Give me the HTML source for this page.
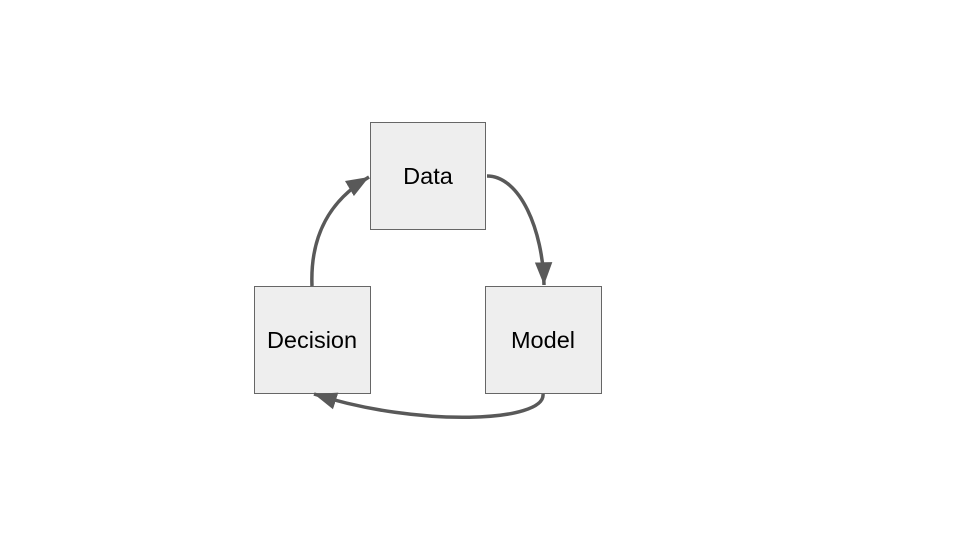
<!DOCTYPE html>
<html><head><style>
html,body{margin:0;padding:0;background:#fff;width:960px;height:540px;overflow:hidden}
svg{display:block}
</style></head><body>
<svg width="960" height="540" xmlns="http://www.w3.org/2000/svg">
<defs>
<marker id="a" markerWidth="7" markerHeight="6" refX="6.5" refY="3" orient="auto" markerUnits="strokeWidth">
<path d="M0,0.5 L6.5,3 L0,5.5 Z" fill="#595959"/>
</marker>
</defs>
<g fill="#eeeeee" stroke="#666" stroke-width="1">
<rect x="370.5" y="122.5" width="115" height="107"/>
<rect x="254.5" y="286.5" width="116" height="107"/>
<rect x="485.5" y="286.5" width="116" height="107"/>
</g>
<g fill="none" stroke="#595959" stroke-width="3.5">
<path d="M487,176 C520,176 543,230 544,285" marker-end="url(#a)"/>
<path d="M543,394 C546,422 420,428 314,394" marker-end="url(#a)"/>
<path d="M312,286 C310,235 330,200 369,177" marker-end="url(#a)"/>
</g>
<g font-family="Liberation Sans, Arial, sans-serif" font-size="23.5" fill="#000" text-anchor="middle">
<text x="428" y="184">Data</text>
<text x="312" y="348">Decision</text>
<text x="543" y="348">Model</text>
</g>
</svg>
</body></html>
